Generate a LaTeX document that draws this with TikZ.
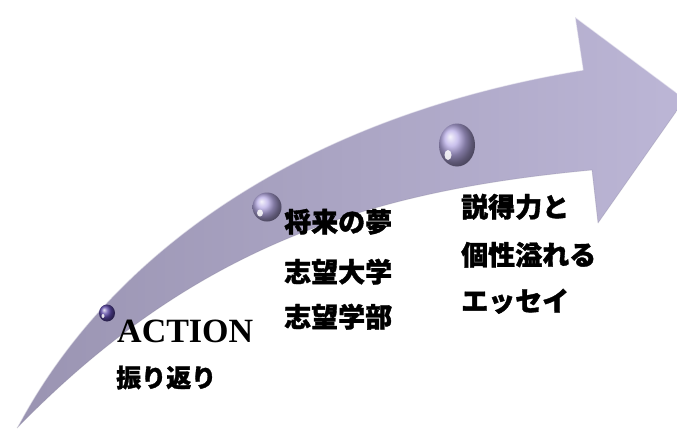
\documentclass[tikz,border=0pt]{standalone}
\usepackage{fontspec}
\setmainfont{Liberation Serif}
\newfontfamily\jp[BoldFeatures={FakeBold=1.3}]{Noto Sans CJK JP}
\usetikzlibrary{shapes.geometric}
\definecolor{arrdark}{HTML}{9A94B2}
\definecolor{arrlight}{HTML}{BCB6D6}
\definecolor{sphdark}{HTML}{5C48A8}
\definecolor{sphlight}{HTML}{B8ACE6}
\tikzset{
  jplabel/.style={anchor=base west, inner sep=0pt, font=\jp\bfseries\fontsize{27}{27}\selectfont},
  enlabel/.style={anchor=base west, inner sep=0pt, font=\bfseries\fontsize{34}{34}\selectfont},
  pearl/.style={ellipse, shading=ball, inner sep=0pt},
  glint/.style={ellipse, fill=white, fill opacity=0.85, inner sep=0pt}
}
\begin{document}
\begin{tikzpicture}[x=1pt,y=-1pt]
\useasboundingbox (0,0) rectangle (677,429);
\clip (0,0) rectangle (677,429);
% arrow body
\shade[left color=arrdark, right color=arrlight]
  (17,428) .. controls (100,270) and (280,120) .. (583,70)
  -- (575,17) -- (685,99) -- (598,223) -- (592,170)
  .. controls (380,190) and (200,240) .. (17,428) -- cycle;
\draw[white, opacity=0.55, line width=1.1pt, line join=round]
  (17,428) .. controls (100,270) and (280,120) .. (583,70)
  -- (575,17) -- (685,99);
\draw[arrdark!80!black, opacity=0.25, line width=0.8pt, line join=round]
  (685,99) -- (598,223) -- (592,170)
  .. controls (380,190) and (200,240) .. (17,428);
% pearls
\node[pearl, ball color=sphdark, minimum width=16pt, minimum height=17pt] (p1) at (107,313) {};
\node[pearl, ball color=sphlight, minimum width=29pt, minimum height=29pt] (p2) at (267,207) {};
\node[pearl, ball color=sphlight, minimum width=36pt, minimum height=43pt] (p3) at (457,145) {};
\node[glint, minimum width=3pt, minimum height=4pt] (g1) at (103,316) {};
\node[glint, minimum width=6pt, minimum height=7pt] (g2) at (260,213) {};
\node[glint, minimum width=7pt, minimum height=10pt] (g3) at (448,155) {};
% labels
\node[enlabel] (t1a) at (117,342) {ACTION};
\node[jplabel, font=\jp\bfseries\fontsize{25}{25}\selectfont] (t1b) at (116,387) {振り返り};
\node[jplabel] (t2a) at (284,232) {将来の夢};
\node[jplabel] (t2b) at (284,282) {志望大学};
\node[jplabel] (t2c) at (284,327) {志望学部};
\node[jplabel] (t3a) at (461,217) {説得力と};
\node[jplabel] (t3b) at (461,265) {個性溢れる};
\node[jplabel] (t3c) at (461,311) {エッセイ};
\end{tikzpicture}
\end{document}
